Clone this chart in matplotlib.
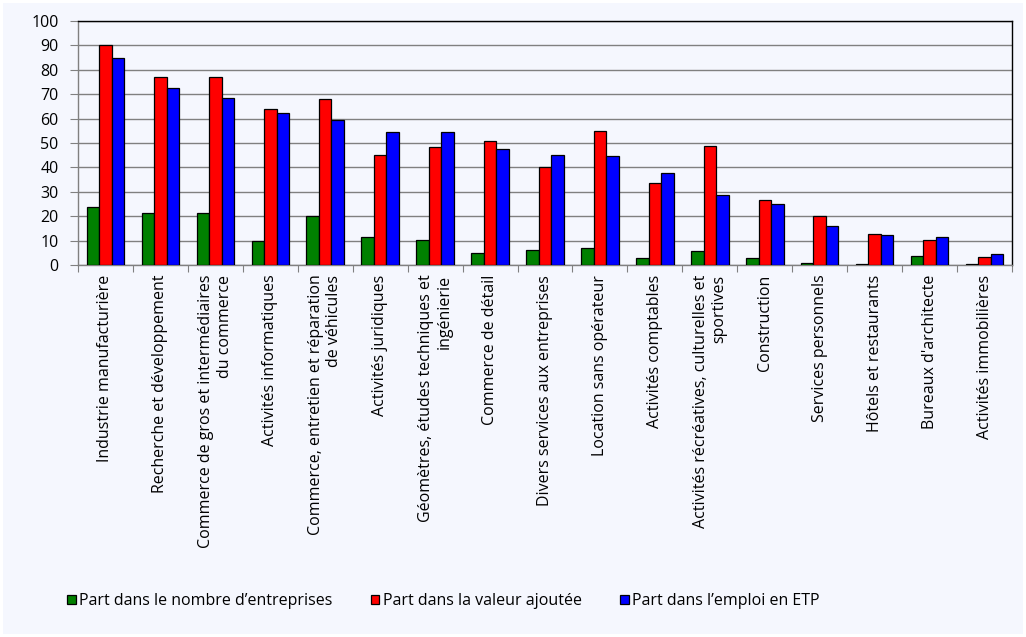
import numpy as np
import matplotlib
matplotlib.use("Agg")
import matplotlib.pyplot as plt
from matplotlib.patches import Rectangle

# categories (line breaks as in the original labels)
categories = [
    "Industrie manufacturière",
    "Recherche et développement",
    "Commerce de gros et intermédiaires\ndu commerce",
    "Activités informatiques",
    "Commerce, entretien et réparation\nde véhicules",
    "Activités juridiques",
    "Géomètres, études techniques et\ningénierie",
    "Commerce de détail",
    "Divers services aux entreprises",
    "Location sans opérateur",
    "Activités comptables",
    "Activités récréatives, culturelles et\nsportives",
    "Construction",
    "Services personnels",
    "Hôtels et restaurants",
    "Bureaux d'architecte",
    "Activités immobilières",
]

part_entreprises = [23.8, 21.5, 21.4, 10.0, 20.1, 11.5, 10.4, 4.9, 6.0, 7.1, 3.0, 5.9, 3.0, 1.0, 0.4, 3.8, 0.5]
part_valeur_ajoutee = [90.0, 77.0, 77.0, 63.8, 67.9, 44.9, 48.2, 51.0, 40.1, 54.8, 33.8, 48.9, 26.8, 20.1, 12.7, 10.4, 3.3]
part_emploi_etp = [84.7, 72.5, 68.6, 62.2, 59.3, 54.7, 54.7, 47.7, 44.9, 44.5, 37.9, 28.5, 24.8, 15.8, 12.3, 11.5, 4.7]

series_labels = [
    "Part dans le nombre d\u2019entreprises",
    "Part dans la valeur ajoutée",
    "Part dans l\u2019emploi en ETP",
]
colors = ["#008000", "#FF0000", "#0000FF"]

bg = "#F5F7FE"
plt.rcParams['font.family'] = ['Open Sans', 'DejaVu Sans']

fig = plt.figure(figsize=(10.26, 6.37), dpi=100, facecolor="white")
# lavender panel inside a thin white frame
fig.patches.append(Rectangle((3 / 1026, 3 / 637), 1 - 6 / 1026, 1 - 6 / 637,
                             transform=fig.transFigure, facecolor=bg,
                             edgecolor="none", zorder=-1))

ax = fig.add_axes([78 / 1026, 1 - 265 / 637, (1012 - 78) / 1026, (265 - 21) / 637])
ax.set_facecolor(bg)

x = np.arange(len(categories))
w = 0.228
all_series = [part_entreprises, part_valeur_ajoutee, part_emploi_etp]
for i, (vals, lab, col) in enumerate(zip(all_series, series_labels, colors)):
    ax.bar(x + (i - 1) * w, vals, width=w, color=col, edgecolor="black",
           linewidth=0.9, label=lab, zorder=3)

ax.set_xlim(-0.5, len(categories) - 0.5)
ax.set_ylim(0, 100)
ax.set_yticks(np.arange(0, 101, 10))
ax.yaxis.grid(True, color="#808080", linewidth=1.0, zorder=0)

for s in ["top", "right"]:
    ax.spines[s].set_color("black")
    ax.spines[s].set_linewidth(1.0)
for s in ["left", "bottom"]:
    ax.spines[s].set_color("#808080")
    ax.spines[s].set_linewidth(1.0)

ax.tick_params(axis="y", direction="out", length=6, color="#808080",
               labelsize=11.5, pad=8)

# category boundaries as ticks, labels at centers
ax.set_xticks(np.arange(-0.5, len(categories), 1.0))
ax.set_xticklabels([])
ax.tick_params(axis="x", which="major", direction="out", length=5, color="#808080")
ax.set_xticks(x, minor=True)
ax.set_xticklabels(categories, minor=True, rotation=90, va="top", ha="center",
                   multialignment="right", fontsize=11.5)
ax.tick_params(axis="x", which="minor", length=0, pad=7)

leg = fig.legend(loc="center left", bbox_to_anchor=(67 / 1026, 1 - 601 / 637),
                 ncol=3, frameon=False, fontsize=11.5, handlelength=0.55,
                 handleheight=0.55, handletextpad=0.2, columnspacing=2.4,
                 borderpad=0, borderaxespad=0)

fig.savefig("out.png", dpi=100, facecolor="white")
